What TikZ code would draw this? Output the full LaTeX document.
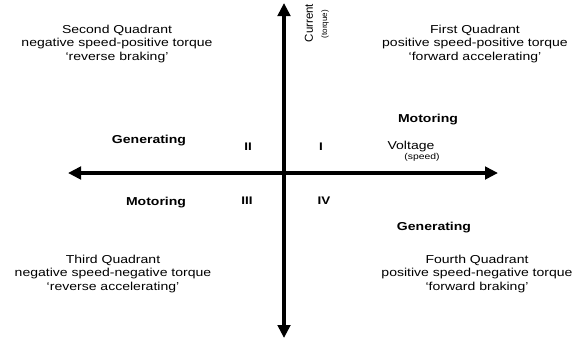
\documentclass[tikz,border=0pt]{standalone}
\usepackage{fontspec}
\setmainfont[FakeStretch=1.22]{Liberation Sans}
\newfontfamily\uprightsf{Liberation Sans}
\usetikzlibrary{arrows.meta,positioning}

\begin{document}
\begin{tikzpicture}[
    x=1pt,y=-1pt,
    font=\fontsize{11.5}{13.6}\selectfont,
    quad/.style={align=center,inner sep=0pt},
    mode/.style={font=\fontsize{11.5}{13.6}\selectfont\bfseries,inner sep=0pt},
    num/.style={font=\fontsize{11}{13}\selectfont\bfseries,inner sep=0pt},
    small/.style={font=\fontsize{8.5}{10}\selectfont,inner sep=0pt},
    axis/.style={{Triangle[length=13pt,width=12.5pt]}-{Triangle[length=13pt,width=12.5pt]},line width=3.2pt}
]
\useasboundingbox (0,0) rectangle (583,343);
\coordinate (top) at (284,3);
\coordinate (bottom) at (284,338);
\coordinate (left) at (68,173);
\coordinate (right) at (498,173);
\draw[axis] (left)--(right);
\draw[axis] (bottom)--(top);
\node[quad] (q2) at (117,44) {Second Quadrant\\negative speed-positive torque\\`reverse braking'};
\node[quad] (q1) at (475,44) {First Quadrant\\positive speed-positive torque\\`forward accelerating'};
\node[quad] (q3) at (113,274) {Third Quadrant\\negative speed-negative torque\\`reverse accelerating'};
\node[quad] (q4) at (477,274) {Fourth Quadrant\\positive speed-negative torque\\`forward braking'};
\node[mode] (gen2) at (149,141) {Generating};
\node[mode] (mot1) at (428,120) {Motoring};
\node[mode] (mot3) at (156,203) {Motoring};
\node[mode] (gen4) at (434,228) {Generating};
\node[num] (n2) at (248,147) {II};
\node[num] (n1) at (321,147) {I};
\node[num] (n3) at (247,201) {III};
\node[num] (n4) at (324,201) {IV};
\node[inner sep=0pt,rotate=90,font=\uprightsf\fontsize{11.5}{13}\selectfont] (curr) at (309,23) {Current};
\node[inner sep=0pt,rotate=90,font=\uprightsf\fontsize{8}{9}\selectfont] (torq) at (325,24) {(torque)};
\node[inner sep=0pt] (volt) at (411,147) {Voltage};
\node[small] (spd) at (422,157) {(speed)};
\end{tikzpicture}
\end{document}
